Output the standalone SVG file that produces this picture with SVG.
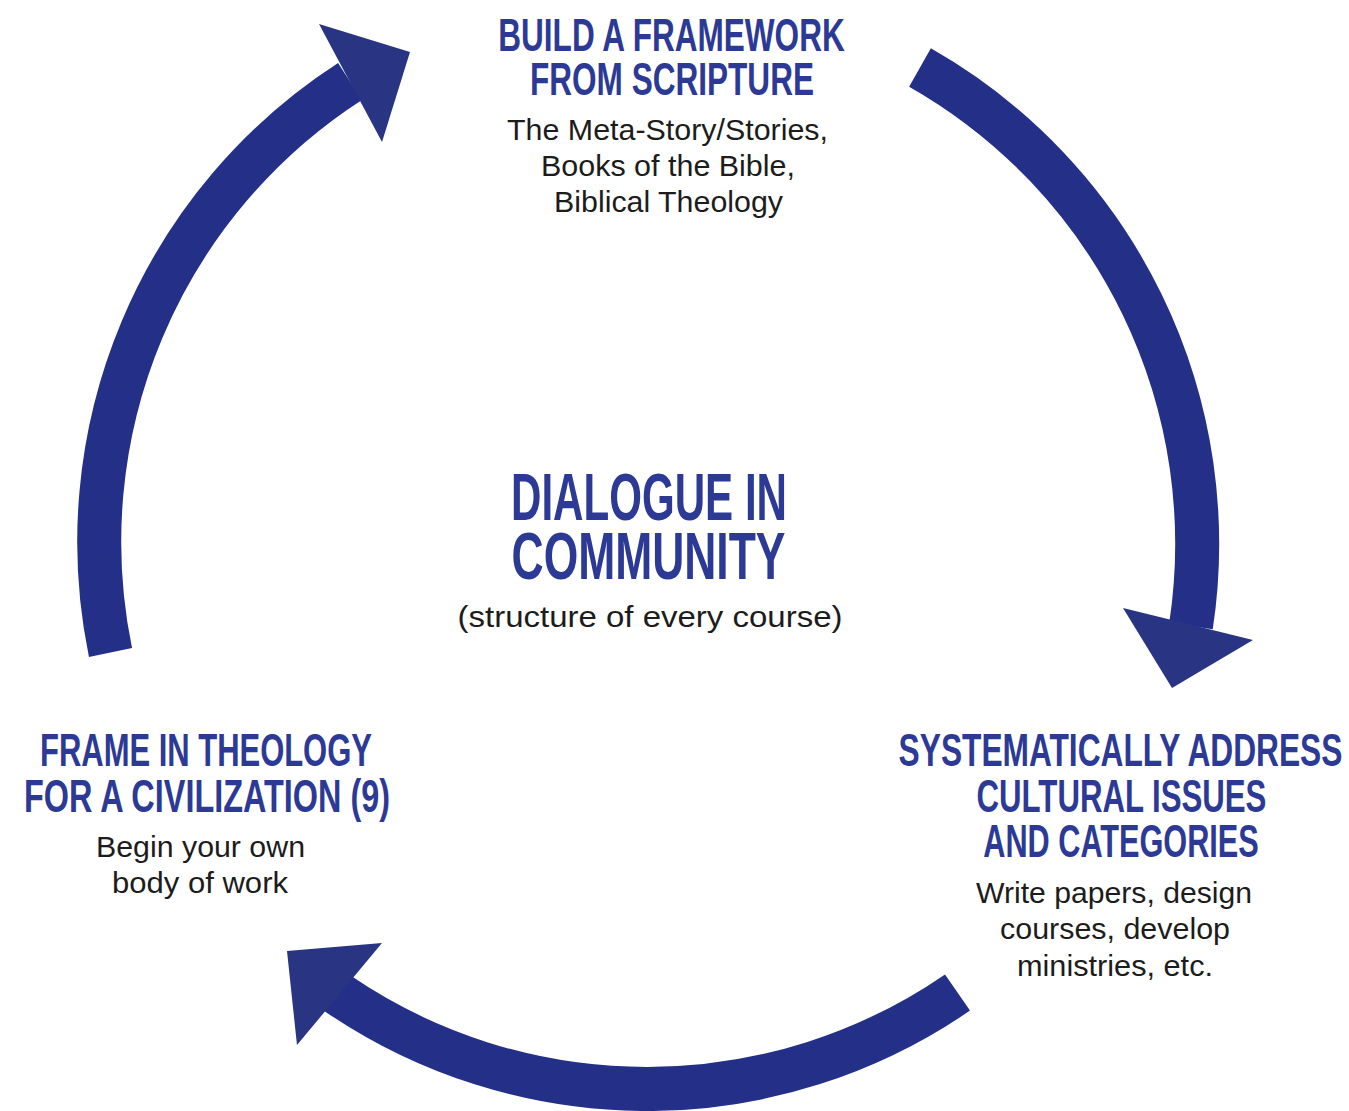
<svg xmlns="http://www.w3.org/2000/svg" width="1349" height="1111" viewBox="0 0 1349 1111">
<style>
.body{fill:none;stroke:#243087;stroke-width:44;stroke-linecap:butt}
.head{fill:#293482}
.ttl{font-family:"Liberation Sans",Arial,sans-serif;font-weight:bold;fill:#2c3a96;text-anchor:middle;font-size:46px}
.big{font-size:66px}
.sub{font-family:"Liberation Sans",Arial,sans-serif;fill:#1c1c1c;text-anchor:middle;font-size:29px}
</style>
<rect width="1349" height="1111" fill="#ffffff"/>
<g id="connectors">
  <g id="arrow-left-to-top">
    <path class="body" d="M110.5 652.5 A548 548 0 0 1 350 81.5"/>
    <polygon class="head" points="319,24 410,52 382,142"/>
  </g>
  <g id="arrow-top-to-right">
    <path class="body" d="M920 67.5 A548 548 0 0 1 1191 626"/>
    <polygon class="head" points="1123,608 1253,640 1172,688"/>
  </g>
  <g id="arrow-right-to-left">
    <path class="body" d="M957.5 992.5 A548 548 0 0 1 337 993"/>
    <polygon class="head" points="382,943 287,951 297,1045"/>
  </g>
</g>
<g id="node-top">
  <text class="ttl" transform="translate(671.5 51) scale(0.686 1)" x="0" y="0">BUILD A FRAMEWORK</text>
  <text class="ttl" transform="translate(672 95) scale(0.686 1)" x="0" y="0">FROM SCRIPTURE</text>
  <text class="sub" x="667.5" y="140" textLength="321" lengthAdjust="spacingAndGlyphs">The Meta-Story/Stories,</text>
  <text class="sub" x="668" y="176" textLength="254" lengthAdjust="spacingAndGlyphs">Books of the Bible,</text>
  <text class="sub" x="668.5" y="212" textLength="229" lengthAdjust="spacingAndGlyphs">Biblical Theology</text>
</g>
<g id="node-center">
  <text class="ttl big" transform="translate(649 520) scale(0.638 1)" x="0" y="0">DIALOGUE IN</text>
  <text class="ttl big" transform="translate(648.5 579) scale(0.673 1)" x="0" y="0">COMMUNITY</text>
  <text class="sub" x="650" y="627" textLength="385" lengthAdjust="spacingAndGlyphs" style="font-size:30px">(structure of every course)</text>
</g>
<g id="node-right">
  <text class="ttl" transform="translate(1120.5 766) scale(0.689 1)" x="0" y="0">SYSTEMATICALLY ADDRESS</text>
  <text class="ttl" transform="translate(1121.5 812) scale(0.678 1)" x="0" y="0">CULTURAL ISSUES</text>
  <text class="ttl" transform="translate(1121 857) scale(0.667 1)" x="0" y="0">AND CATEGORIES</text>
  <text class="sub" x="1114" y="903" textLength="276" lengthAdjust="spacingAndGlyphs">Write papers, design</text>
  <text class="sub" x="1115" y="939" textLength="230" lengthAdjust="spacingAndGlyphs">courses, develop</text>
  <text class="sub" x="1115" y="976" textLength="196" lengthAdjust="spacingAndGlyphs">ministries, etc.</text>
</g>
<g id="node-left">
  <text class="ttl" transform="translate(206 766) scale(0.673 1)" x="0" y="0">FRAME IN THEOLOGY</text>
  <text class="ttl" transform="translate(207 812) scale(0.705 1)" x="0" y="0">FOR A CIVILIZATION (9)</text>
  <text class="sub" x="200.5" y="857" textLength="209" lengthAdjust="spacingAndGlyphs">Begin your own</text>
  <text class="sub" x="200" y="893" textLength="176" lengthAdjust="spacingAndGlyphs">body of work</text>
</g>
</svg>
